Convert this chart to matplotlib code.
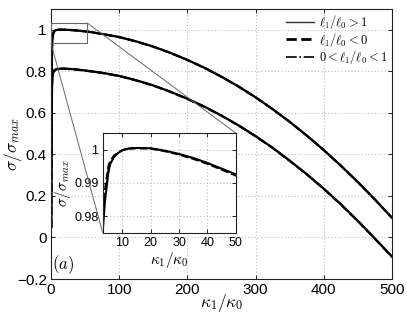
import matplotlib
matplotlib.use("Agg")
import matplotlib.pyplot as plt
from matplotlib.patches import Rectangle, ConnectionPatch

plt.rcParams["font.family"] = ["Liberation Sans", "DejaVu Sans"]
plt.rcParams["mathtext.fontset"] = "cm"

# kappa_1 / kappa_0 sample positions
kappa = [0.3, 0.6, 1.0, 1.5, 2.0, 3.0, 3.8, 5.0, 5.6, 7.0, 8.5, 10, 12, 15, 20,
         25, 30, 35, 40, 45, 50, 60, 75, 100, 125, 150, 175, 200, 225, 250,
         275, 300, 325, 350, 375, 400, 425, 450, 475, 500]

# upper branch (peaks at 1)
upper_solid = [0.05, 0.45, 0.75, 0.90, 0.95, 0.975, 0.9844, 0.9930, 0.9955, 0.9978,
               0.9990, 0.9998, 1.0003, 1.0005, 1.0004, 0.9997, 0.9987, 0.9975,
               0.9960, 0.9943, 0.9926, 0.9880, 0.9800, 0.9650, 0.9440, 0.9190,
               0.8890, 0.8550, 0.8170, 0.7740, 0.7270, 0.6750, 0.6180, 0.5570,
               0.4910, 0.4210, 0.3460, 0.2670, 0.1830, 0.0950]
upper_dashed = [0.05, 0.52, 0.80, 0.92, 0.96, 0.980, 0.9880, 0.9950, 0.9965, 0.9982,
                0.9992, 0.9999, 1.0003, 1.0004, 1.0003, 0.9995, 0.9985, 0.9972,
                0.9957, 0.9940, 0.9922, 0.9877, 0.9797, 0.9647, 0.9437, 0.9187,
                0.8887, 0.8547, 0.8167, 0.7737, 0.7267, 0.6747, 0.6177, 0.5567,
                0.4907, 0.4207, 0.3457, 0.2667, 0.1827, 0.0947]
upper_dashdot = [0.05, 0.48, 0.77, 0.91, 0.955, 0.977, 0.9860, 0.9940, 0.9960, 0.9980,
                 0.9991, 0.9998, 1.0003, 1.0005, 1.0004, 0.9996, 0.9986, 0.9974,
                 0.9959, 0.9942, 0.9924, 0.9879, 0.9799, 0.9649, 0.9439, 0.9189,
                 0.8889, 0.8549, 0.8169, 0.7739, 0.7269, 0.6749, 0.6179, 0.5569,
                 0.4909, 0.4209, 0.3459, 0.2669, 0.1829, 0.0949]

# lower branch (peaks near 0.81)
lower_solid = [0.05, 0.38, 0.60, 0.72, 0.77, 0.790, 0.798, 0.804, 0.806, 0.808,
               0.810, 0.811, 0.812, 0.813, 0.813, 0.812, 0.811, 0.810, 0.808,
               0.806, 0.804, 0.800, 0.793, 0.778, 0.757, 0.732, 0.702, 0.668,
               0.630, 0.587, 0.540, 0.488, 0.432, 0.370, 0.305, 0.235, 0.160,
               0.080, -0.005, -0.092]
lower_dashed = [0.05, 0.44, 0.64, 0.74, 0.78, 0.795, 0.801, 0.806, 0.807, 0.809,
                0.810, 0.811, 0.812, 0.812, 0.812, 0.811, 0.810, 0.809, 0.807,
                0.805, 0.803, 0.799, 0.792, 0.777, 0.756, 0.731, 0.701, 0.667,
                0.629, 0.586, 0.539, 0.487, 0.431, 0.369, 0.304, 0.234, 0.159,
                0.079, -0.006, -0.093]

legend_labels = [r"$\ell_1/\ell_0 > 1$", r"$\ell_1/\ell_0 < 0$", r"$0 < \ell_1/\ell_0 < 1$"]

x_ticks = [0, 100, 200, 300, 400, 500]
y_ticks = [-0.2, 0, 0.2, 0.4, 0.6, 0.8, 1]
y_ticklabels = ["\u22120.2", "0", "0.2", "0.4", "0.6", "0.8", "1"]
inset_x_ticks = [10, 20, 30, 40, 50]
inset_y_ticks = [0.98, 0.99, 1.0]
inset_y_ticklabels = ["0.98", "0.99", "1"]

grid_kw = dict(color="#bdbdbd", linestyle=(0, (1, 2)), linewidth=0.8)


def draw_curves(ax, lw_scale=1.0):
    ax.plot(kappa, upper_solid, "-", color="k", lw=1.6 * lw_scale)
    ax.plot(kappa, upper_dashdot, "-.", color="k", lw=1.2 * lw_scale)
    ax.plot(kappa, upper_dashed, "--", color="k", lw=1.6 * lw_scale)
    ax.plot(kappa, lower_solid, "-", color="k", lw=1.6 * lw_scale)
    ax.plot(kappa, lower_solid, "-.", color="k", lw=1.2 * lw_scale)
    ax.plot(kappa, lower_dashed, "--", color="k", lw=1.6 * lw_scale)


def style_axes(ax, size):
    ax.tick_params(direction="in", top=True, right=True, labelsize=size,
                   length=3, width=0.6, pad=3)
    for sp in ax.spines.values():
        sp.set_linewidth(0.8)
        sp.set_color("#222222")
    ax.grid(True, **grid_kw)
    ax.set_axisbelow(True)


fig = plt.figure(figsize=(4.07, 3.16), dpi=100)
ax = fig.add_axes([0.1253, 0.117, 0.8377, 0.8545])
draw_curves(ax)
ax.set_xlim(0, 500)
ax.set_ylim(-0.2, 1.1)
ax.set_xticks(x_ticks)
ax.set_yticks(y_ticks)
ax.set_yticklabels(y_ticklabels)
style_axes(ax, 11)
ax.set_xlabel(r"$\kappa_1/\kappa_0$", fontsize=12.5, va="center")
ax.xaxis.set_label_coords(0.5, -0.088)
ax.set_ylabel(r"$\sigma/\sigma_{max}$", fontsize=12.5, va="center")
ax.yaxis.set_label_coords(-0.112, 0.5)
ax.text(0.004, 0.012, r"$(a)$", transform=ax.transAxes, fontsize=12,
        ha="left", va="bottom")

# legend handles
h1, = ax.plot([], [], "-", color="#333333", lw=1.0)
h2, = ax.plot([], [], "--", color="k", lw=2.0)
h3, = ax.plot([], [], "-.", color="k", lw=1.2)
ax.legend([h1, h2, h3], legend_labels, loc="upper right", frameon=False,
          fontsize=9, handlelength=2.2, handletextpad=0.4, labelspacing=-0.05,
          borderaxespad=0.05, borderpad=0.3)

# zoom rectangle
ax.add_patch(Rectangle((0, 0.935), 53, 0.098, fill=False, edgecolor="#666666",
                       lw=0.8, zorder=5))

# inset
axi = fig.add_axes([0.2523, 0.2636, 0.3268, 0.3155])
draw_curves(axi, 0.9)
axi.set_xlim(3, 50)
axi.set_ylim(0.975, 1.005)
axi.set_xticks(inset_x_ticks)
axi.set_yticks(inset_y_ticks)
axi.set_yticklabels(inset_y_ticklabels)
style_axes(axi, 9)
axi.set_xlabel(r"$\kappa_1/\kappa_0$", fontsize=11, labelpad=1)
axi.set_ylabel(r"$\sigma/\sigma_{max}$", fontsize=11, labelpad=1)

for xy_main, xy_inset in [((53, 1.033), (1, 1)), ((0, 0.935), (0, 0))]:
    con = ConnectionPatch(xyA=xy_main, coordsA=ax.transData,
                          xyB=xy_inset, coordsB=axi.transAxes,
                          color="#666666", lw=0.7)
    fig.add_artist(con)

fig.savefig("out.png", dpi=100)
